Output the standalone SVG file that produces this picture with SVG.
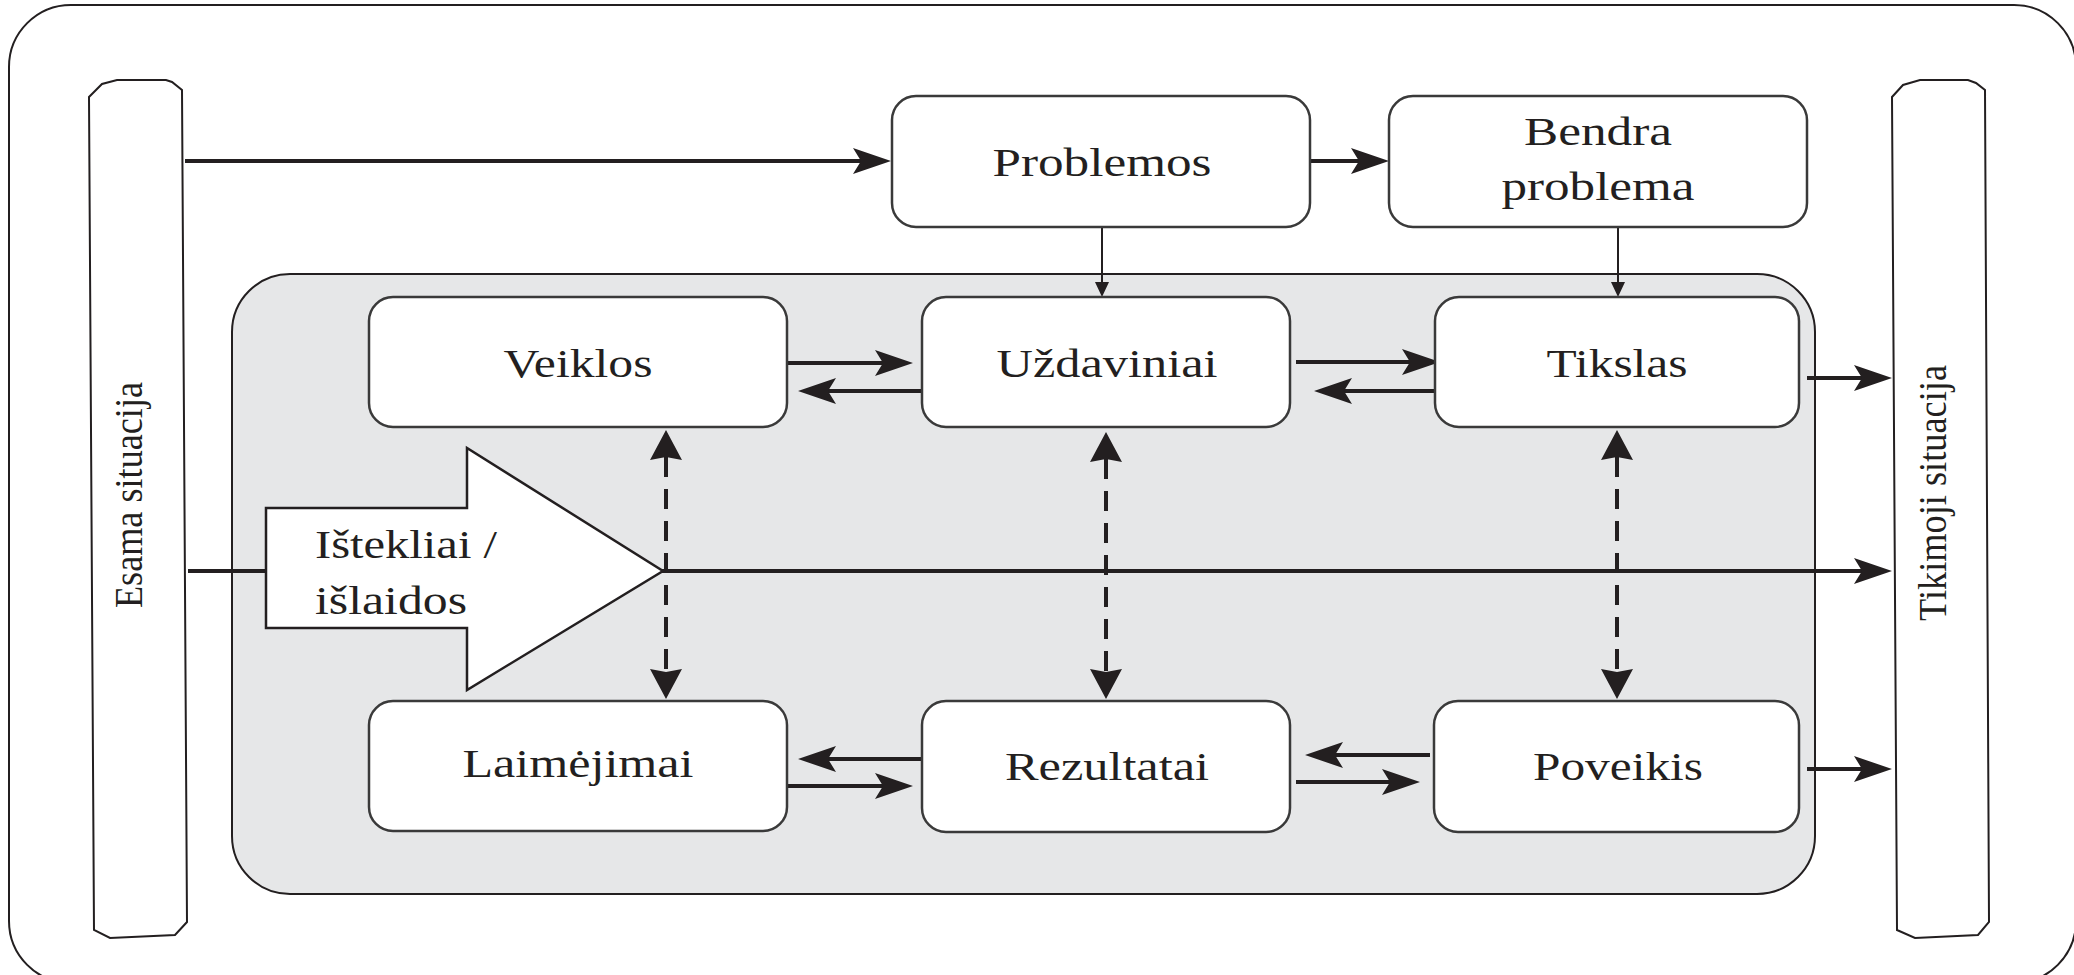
<svg xmlns="http://www.w3.org/2000/svg" width="2074" height="975" viewBox="0 0 2074 975">
<style>
.frame{fill:#fff;stroke:#231f20;stroke-width:2}
.panel{fill:#e6e7e8;stroke:#231f20;stroke-width:2}
.node{fill:#fff;stroke:#3a3a3a;stroke-width:2.5}
.lbl{font-family:"Liberation Serif","Times New Roman",serif;font-size:40px;fill:#231f20}
.c{text-anchor:middle}
.thick{stroke:#231f20;stroke-width:4;fill:none}
.thin{stroke:#231f20;stroke-width:2;fill:none}
.dash{stroke:#231f20;stroke-width:4;fill:none;stroke-dasharray:20 12}
</style>
<defs>
<marker id="ah" viewBox="0 0 38 26" refX="8" refY="13" markerWidth="38" markerHeight="26" markerUnits="userSpaceOnUse" orient="auto">
<path d="M0,0 L38,13 L0,26 L8,13 Z" fill="#231f20"/>
</marker>
<marker id="th" viewBox="0 0 15 14" refX="1" refY="7" markerWidth="15" markerHeight="14" markerUnits="userSpaceOnUse" orient="auto">
<path d="M0,0 L15,7 L0,14 Z" fill="#231f20"/>
</marker>
<marker id="dh" viewBox="0 0 30 32" refX="3" refY="16" markerWidth="30" markerHeight="32" markerUnits="userSpaceOnUse" orient="auto-start-reverse">
<path d="M0,0 L30,16 L0,32 L3,16 Z" fill="#231f20"/>
</marker>
</defs>
<rect width="2074" height="975" fill="#fff"/>
<rect id="outer" class="frame" x="9" y="5" width="2067" height="978" rx="62"/>
<g id="esama">
<path class="frame" d="M89,97 L102,84 L117,80 L166,80 L172,82 L182,90 L187,922 L175,935 L110,938 L94,930 Z"/>
<text class="lbl c" transform="translate(142,495) rotate(-90)" textLength="226" lengthAdjust="spacingAndGlyphs">Esama situacija</text>
</g>
<g id="tikimoji">
<path class="frame" d="M1892,97 L1903,85 L1920,80 L1968,80 L1976,83 L1985,90 L1989,922 L1978,935 L1915,938 L1897,930 Z"/>
<text class="lbl c" transform="translate(1946,493) rotate(-90)" textLength="256" lengthAdjust="spacingAndGlyphs">Tikimoji situacija</text>
</g>
<rect id="panel" class="panel" x="232" y="274" width="1583" height="620" rx="58"/>
<g id="connectors">
<line class="thick" x1="185" y1="161" x2="861" y2="161" marker-end="url(#ah)"/>
<line class="thick" x1="1310" y1="161" x2="1359" y2="161" marker-end="url(#ah)"/>
<line class="thin" x1="1102" y1="227" x2="1102" y2="283" marker-end="url(#th)"/>
<line class="thin" x1="1618" y1="227" x2="1618" y2="283" marker-end="url(#th)"/>
<line class="thick" x1="787" y1="363" x2="883" y2="363" marker-end="url(#ah)"/>
<line class="thick" x1="922" y1="391" x2="828" y2="391" marker-end="url(#ah)"/>
<line class="thick" x1="1296" y1="362" x2="1410" y2="362" marker-end="url(#ah)"/>
<line class="thick" x1="1435" y1="391" x2="1344" y2="391" marker-end="url(#ah)"/>
<line class="thick" x1="1807" y1="378" x2="1862" y2="378" marker-end="url(#ah)"/>
<line class="thick" x1="1807" y1="769" x2="1862" y2="769" marker-end="url(#ah)"/>
<line class="thick" x1="923" y1="759" x2="828" y2="759" marker-end="url(#ah)"/>
<line class="thick" x1="787" y1="786" x2="883" y2="786" marker-end="url(#ah)"/>
<line class="thick" x1="1430" y1="755" x2="1335" y2="755" marker-end="url(#ah)"/>
<line class="thick" x1="1296" y1="782" x2="1390" y2="782" marker-end="url(#ah)"/>
<line class="thick" x1="188" y1="571" x2="1862" y2="571" marker-end="url(#ah)"/>
<line class="dash" x1="666" y1="457" x2="666" y2="672" marker-start="url(#dh)" marker-end="url(#dh)"/>
<line class="dash" x1="1106" y1="459" x2="1106" y2="672" marker-start="url(#dh)" marker-end="url(#dh)"/>
<line class="dash" x1="1617" y1="457" x2="1617" y2="672" marker-start="url(#dh)" marker-end="url(#dh)"/>
</g>
<g id="istekliai">
<path d="M266,508 L467,508 L467,448 L663,571 L467,690 L467,628 L266,628 Z" fill="#fff" stroke="#231f20" stroke-width="2.5"/>
<text class="lbl" x="315" y="558" textLength="182" lengthAdjust="spacingAndGlyphs">Ištekliai /</text>
<text class="lbl" x="315" y="614" textLength="152" lengthAdjust="spacingAndGlyphs">išlaidos</text>
</g>
<g id="problemos">
<rect class="node" x="892" y="96" width="418" height="131" rx="24"/>
<text class="lbl c" x="1102" y="176" textLength="219" lengthAdjust="spacingAndGlyphs">Problemos</text>
</g>
<g id="bendra">
<rect class="node" x="1389" y="96" width="418" height="131" rx="24"/>
<text class="lbl c" x="1598" y="145" textLength="148" lengthAdjust="spacingAndGlyphs">Bendra</text>
<text class="lbl c" x="1598" y="200" textLength="193" lengthAdjust="spacingAndGlyphs">problema</text>
</g>
<g id="veiklos">
<rect class="node" x="369" y="297" width="418" height="130" rx="24"/>
<text class="lbl c" x="578" y="377" textLength="149" lengthAdjust="spacingAndGlyphs">Veiklos</text>
</g>
<g id="uzdaviniai">
<rect class="node" x="922" y="297" width="368" height="130" rx="24"/>
<text class="lbl c" x="1107" y="377" textLength="221" lengthAdjust="spacingAndGlyphs">Uždaviniai</text>
</g>
<g id="tikslas">
<rect class="node" x="1435" y="297" width="364" height="130" rx="24"/>
<text class="lbl c" x="1617" y="377" textLength="141" lengthAdjust="spacingAndGlyphs">Tikslas</text>
</g>
<g id="laimejimai">
<rect class="node" x="369" y="701" width="418" height="130" rx="24"/>
<text class="lbl c" x="578" y="777" textLength="231" lengthAdjust="spacingAndGlyphs">Laimėjimai</text>
</g>
<g id="rezultatai">
<rect class="node" x="922" y="701" width="368" height="131" rx="24"/>
<text class="lbl c" x="1107" y="780" textLength="204" lengthAdjust="spacingAndGlyphs">Rezultatai</text>
</g>
<g id="poveikis">
<rect class="node" x="1434" y="701" width="365" height="131" rx="24"/>
<text class="lbl c" x="1618" y="780" textLength="170" lengthAdjust="spacingAndGlyphs">Poveikis</text>
</g>
</svg>
